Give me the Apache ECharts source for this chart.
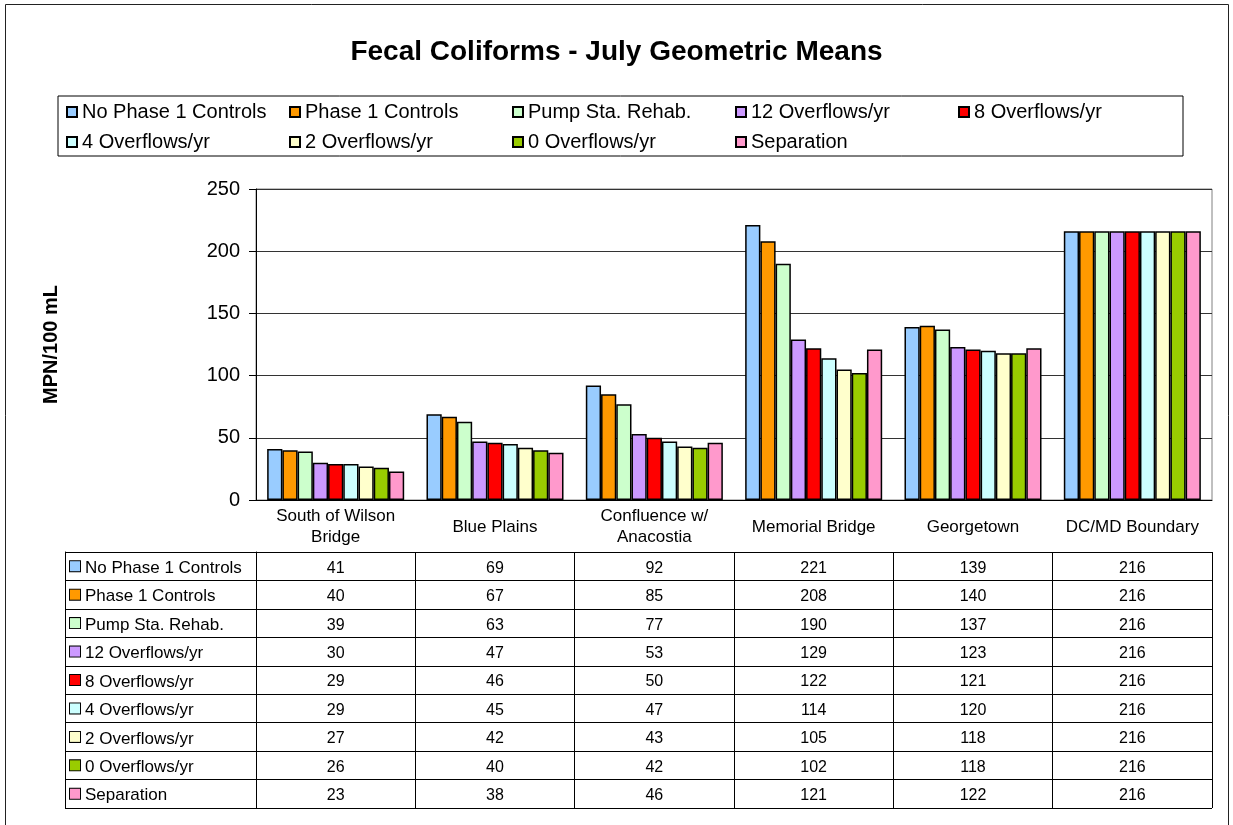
<!DOCTYPE html>
<html>
<head>
<meta charset="utf-8">
<script src="https://cdn.jsdelivr.net/npm/echarts@6/dist/echarts.min.js"></script>
<style>
  html, body { margin: 0; padding: 0; background: #fff; }
  #chart { width: 1233px; height: 825px; }
</style>
</head>
<body>
<div id="chart"></div>
<script>
// Sampling stations along the river (x-axis categories / table columns)
const categories = [
  'South of Wilson\nBridge',
  'Blue Plains',
  'Confluence w/\nAnacostia',
  'Memorial Bridge',
  'Georgetown',
  'DC/MD Boundary'
];

// Control scenarios (series / table rows)
const seriesNames = [
  'No Phase 1 Controls',
  'Phase 1 Controls',
  'Pump Sta. Rehab.',
  '12 Overflows/yr',
  '8 Overflows/yr',
  '4 Overflows/yr',
  '2 Overflows/yr',
  '0 Overflows/yr',
  'Separation'
];

const seriesColors = [
  '#99CCFF', '#FF9900', '#CCFFCC', '#CC99FF', '#FF0000',
  '#CCFFFF', '#FFFFCC', '#99CC00', '#FF99CC'
];

// July geometric means, MPN/100 mL
const noPhase1Controls = [41, 69, 92, 221, 139, 216];
const phase1Controls   = [40, 67, 85, 208, 140, 216];
const pumpStaRehab     = [39, 63, 77, 190, 137, 216];
const overflows12      = [30, 47, 53, 129, 123, 216];
const overflows8       = [29, 46, 50, 122, 121, 216];
const overflows4       = [29, 45, 47, 114, 120, 216];
const overflows2       = [27, 42, 43, 105, 118, 216];
const overflows0       = [26, 40, 42, 102, 118, 216];
const separation       = [23, 38, 46, 121, 122, 216];

// Value axis ticks
const yMin = 0, yMax = 250, yStep = 50;

const seriesValues = [
  noPhase1Controls, phase1Controls, pumpStaRehab, overflows12, overflows8,
  overflows4, overflows2, overflows0, separation
];

const FONT = '"Liberation Sans", Arial, Helvetica, sans-serif';
const LINE = '#000';

// Cells of the data table: [column, row, value]
const tableCells = [];
seriesValues.forEach((vals, r) => vals.forEach((v, c) => tableCells.push([c, r, v])));

// Rich-text styles for the row headers (colour key + name)
const rowRich = { t: { fontSize: 17, fontFamily: FONT, color: '#000', padding: [4, 0, 0, 5] } };
seriesColors.forEach((c, i) => {
  rowRich['m' + i] = { width: 10, height: 10, backgroundColor: c, borderColor: '#000', borderWidth: 1, padding: [0, 0, 0, 0] };
});

const barSeries = seriesNames.map((name, i) => ({
  name: name,
  type: 'bar',
  xAxisIndex: 0,
  yAxisIndex: 0,
  data: seriesValues[i],
  barGap: '0%',
  barCategoryGap: '14%',
  itemStyle: { color: seriesColors[i], borderColor: '#000', borderWidth: 1.5 },
  emphasis: { disabled: true }
}));

const chart = echarts.init(document.getElementById('chart'), null, { renderer: 'canvas' });

chart.setOption({
  backgroundColor: '#fff',
  animation: false,
  textStyle: { fontFamily: FONT },
  title: {
    text: 'Fecal Coliforms - July Geometric Means',
    left: 'center',
    top: 36,
    padding: [0, 0, 0, 6],
    textStyle: { fontSize: 28, fontWeight: 'bold', color: '#000', fontFamily: FONT, lineHeight: 32 }
  },
  legend: {
    data: seriesNames,
    left: 58,
    top: 96,
    width: 1150,
    orient: 'horizontal',
    icon: 'rect',
    itemWidth: 10,
    itemHeight: 10,
    itemGap: 10,
    padding: [6, 12, 4, 8],
    borderColor: '#000',
    borderWidth: 1,
    selectedMode: false,
    textStyle: { fontSize: 20, width: 197, lineHeight: 20, overflow: 'none', color: '#000', fontFamily: FONT }
  },
  graphic: [{
    type: 'rect',
    silent: true,
    z: -10,
    shape: { x: 5.5, y: 4.5, width: 1223, height: 900 },
    style: { fill: null, stroke: '#222', lineWidth: 1 }
  }],
  grid: [
    { left: 256, right: 21, top: 189, bottom: 325, show: true, borderColor: '#808080', borderWidth: 1, backgroundColor: '#fff' },
    { left: 256, right: 21, top: 552, bottom: 17 }
  ],
  xAxis: [
    {
      type: 'category',
      gridIndex: 0,
      data: categories,
      axisLine: { lineStyle: { color: LINE, width: 1 } },
      axisTick: { interval: 0, length: 52, lineStyle: { color: LINE } },
      axisLabel: {
        interval: 0, margin: 27, verticalAlign: 'middle', fontSize: 17, lineHeight: 21,
        color: '#000', fontFamily: FONT
      },
      splitLine: { show: false }
    },
    {
      type: 'category',
      gridIndex: 1,
      data: categories,
      axisLine: { show: false },
      axisTick: { show: false },
      axisLabel: { show: false },
      splitLine: { show: true, interval: 0, lineStyle: { color: LINE } }
    }
  ],
  yAxis: [
    {
      type: 'value',
      gridIndex: 0,
      min: yMin,
      max: yMax,
      interval: yStep,
      name: 'MPN/100 mL',
      nameLocation: 'middle',
      nameGap: 195,
      nameTextStyle: { fontSize: 20, fontWeight: 'bold', color: '#000', fontFamily: FONT },
      axisLine: { show: true, lineStyle: { color: LINE } },
      axisTick: { show: true, length: 7, lineStyle: { color: LINE } },
      axisLabel: { margin: 16, fontSize: 20, color: '#000', fontFamily: FONT },
      splitLine: { show: true, lineStyle: { color: '#333' } }
    },
    {
      type: 'category',
      gridIndex: 1,
      position: 'left',
      data: seriesNames,
      inverse: true,
      axisLine: { show: true, lineStyle: { color: LINE } },
      axisTick: { show: true, interval: 0, length: 191, lineStyle: { color: LINE } },
      axisLabel: {
        interval: 0, align: 'left', margin: 186,
        formatter: (value, index) => '{m' + index + '|}{t|' + value + '}',
        rich: rowRich
      },
      splitLine: { show: true, interval: 0, lineStyle: { color: LINE } }
    },
    {
      type: 'category',
      gridIndex: 1,
      position: 'left',
      offset: 191,
      data: seriesNames,
      inverse: true,
      axisLine: { show: true, lineStyle: { color: LINE } },
      axisTick: { show: false },
      axisLabel: { show: false },
      splitLine: { show: false }
    }
  ],
  series: barSeries.concat([{
    type: 'custom',
    xAxisIndex: 1,
    yAxisIndex: 1,
    silent: true,
    data: tableCells,
    encode: { x: 0, y: 1 },
    renderItem: (params, api) => {
      const p = api.coord([api.value(0), api.value(1)]);
      return {
        type: 'text',
        style: {
          text: String(api.value(2)),
          x: p[0], y: p[1] + 2,
          align: 'center', verticalAlign: 'middle',
          fontSize: 16, fontFamily: FONT, fill: '#000'
        }
      };
    }
  }])
});
</script>
</body>
</html>
